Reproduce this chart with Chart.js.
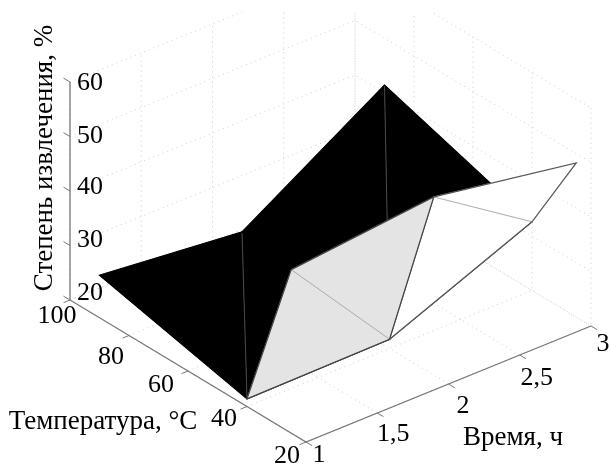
<!DOCTYPE html>
<html>
<head>
<meta charset="utf-8">
<style>
  html, body { margin: 0; padding: 0; background: #fff; }
  canvas { display: block; }
</style>
<script src="https://cdn.jsdelivr.net/npm/chart.js@4/dist/chart.umd.min.js"></script>
</head>
<body>
<canvas id="grafico" width="611" height="464"></canvas>
<script>
// data
const times = [1, 2, 3];
const temps = [25, 40, 90];
// one row per time, one value per temperature
const extraction = [
  [50, 21.4, 27.8],
  [52.7, 21.7, 25.1],
  [48.3, 32.6, 41.4]
];
const timeTicks = [1, 1.5, 2, 2.5, 3];
const timeLabels = ["1", "1,5", "2", "2,5", "3"];
const tempTicks = [20, 40, 60, 80, 100];
const tempLabels = ["20", "40", "60", "80", "100"];
const levelTicks = [20, 30, 40, 50, 60];
const levelLabels = ["20", "30", "40", "50", "60"];

// cells of the mesh, back to front: time index, temperature index, fill, edge, diagonal
const cells = [
  [1, 1, "#000000", "#000000", "#4a4a4a"],
  [0, 1, "#000000", "#000000", "#4a4a4a"],
  [1, 0, "#ffffff", "#555555", "#b0b0b0"],
  [0, 0, "#e4e4e4", "#444444", "#b0b0b0"]
];

// fixed oblique view of the box
function project(t, T, z) {
  return {
    x: 306 + 142.5 * (t - 1) - 2.95 * (T - 20),
    y: 442 - 58 * (t - 1) - 1.775 * (T - 20) - 5.45 * (z - 20)
  };
}

const datasets = [];
function addLine(pts, color, width, dash, fill) {
  datasets.push({
    data: pts,
    showLine: true,
    borderColor: color,
    borderWidth: width,
    borderDash: dash || [],
    backgroundColor: fill || "transparent",
    fill: fill ? "shape" : false,
    pointRadius: 0,
    tension: 0,
    order: 1000 - datasets.length
  });
}

// dotted grid on floor and both walls
const gridColor = "#cccccc", dots = [1, 4];
timeTicks.forEach(t => {
  addLine([project(t, 20, 20), project(t, 100, 20), project(t, 100, 60)], gridColor, 1, dots);
});
tempTicks.forEach(T => {
  addLine([project(1, T, 20), project(3, T, 20), project(3, T, 60)], gridColor, 1, dots);
});
levelTicks.forEach(z => {
  addLine([project(1, 100, z), project(3, 100, z), project(3, 20, z)], gridColor, 1, dots);
});

// axes and tick marks
const axisColor = "#777777";
addLine([project(1, 100, 60), project(1, 100, 20), project(1, 20, 20), project(3, 20, 20)], axisColor, 1.3);
levelTicks.forEach(z => addLine([project(1, 100, z), project(1, 102.2, z)], axisColor, 1));
tempTicks.forEach(T => addLine([project(1, T, 20), project(0.955, T, 20)], axisColor, 1));
timeTicks.forEach(t => addLine([project(t, 20, 20), project(t, 17.9, 20)], axisColor, 1));

// surface
cells.forEach(([i, j, fill, edge, diag]) => {
  const p00 = project(times[i], temps[j], extraction[i][j]);
  const p10 = project(times[i + 1], temps[j], extraction[i + 1][j]);
  const p01 = project(times[i], temps[j + 1], extraction[i][j + 1]);
  const p11 = project(times[i + 1], temps[j + 1], extraction[i + 1][j + 1]);
  addLine([p00, p10, p11, p00], fill, 0.5, null, fill);
  addLine([p00, p01, p11, p00], fill, 0.5, null, fill);
  addLine([p00, p11], diag, 1);
  addLine([p00, p10, p11, p01, p00], edge, 1.2);
});

// label offsets from the tick they belong to
const levelOffsets = [[20, -6.5], [20, -5], [20, -3.5], [20, 0], [20, 1.5]];
const tempOffsets = [[-19, 14.5], [-23, 13], [-27, 14.5], [-18, 22], [-13, 16.5]];
const timeOffsets = [[13, 13.5], [16, 21.5], [14.5, 22.5], [17, 23.5], [12, 18.5]];

const textPlugin = {
  id: "textos",
  afterDraw(chart) {
    const { ctx, scales } = chart;
    const put = (p, off, txt) => {
      ctx.fillText(txt, scales.x.getPixelForValue(p.x) + off[0], scales.y.getPixelForValue(p.y) + off[1]);
    };
    ctx.save();
    ctx.fillStyle = "#000";
    ctx.textAlign = "center";
    ctx.textBaseline = "middle";
    ctx.font = "26px 'Liberation Serif'";
    levelTicks.forEach((z, k) => put(project(1, 100, z), levelOffsets[k], levelLabels[k]));
    tempTicks.forEach((T, k) => put(project(1, T, 20), tempOffsets[k], tempLabels[k]));
    timeTicks.forEach((t, k) => put(project(t, 20, 20), timeOffsets[k], timeLabels[k]));
    ctx.font = "27px 'Liberation Serif'";
    ctx.fillText("Температура, °C", 103, 421.5);
    ctx.fillText("Время, ч", 513, 438);
    ctx.translate(45, 158);
    ctx.rotate(-Math.PI / 2);
    ctx.fillText("Степень извлечения, %", 0, 0);
    ctx.restore();
  }
};

new Chart(document.getElementById("grafico"), {
  type: "scatter",
  data: { datasets: datasets },
  options: {
    responsive: false,
    animation: false,
    layout: { padding: { top: 12 } },
    plugins: { legend: { display: false }, tooltip: { enabled: false } },
    scales: {
      x: { type: "linear", min: 0, max: 611, display: false },
      y: { type: "linear", min: 12, max: 464, reverse: true, display: false }
    }
  },
  plugins: [textPlugin]
});
</script>
</body>
</html>
